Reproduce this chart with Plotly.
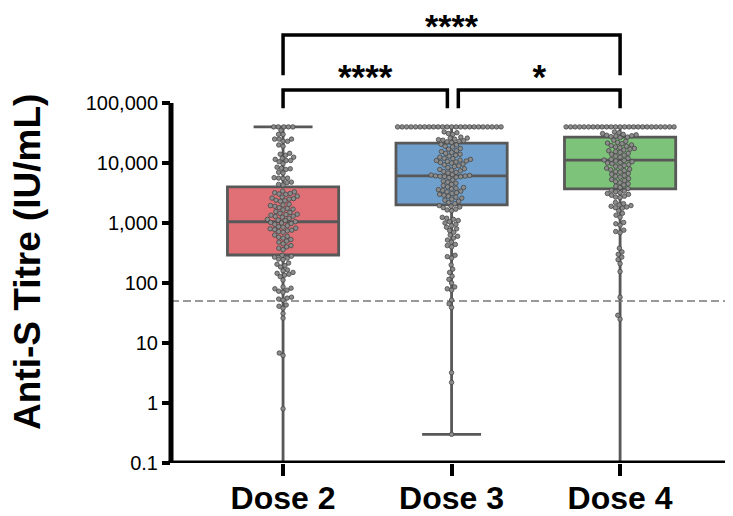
import math
import numpy as np
import plotly.graph_objects as go

# ---------------- data ----------------
groups = ["Dose 2", "Dose 3", "Dose 4"]

dose2 = [40000, 40000, 40000, 40000, 40000,
         35000, 30000, 30000, 25000, 25000, 25000, 23000, 23000, 20000, 19000,
         14000, 14500, 13500, 12000, 11500, 11000, 11000, 10500, 12500, 9700,
         8500, 8200, 8000, 7800, 7000, 6800, 5600, 5600, 5500, 5700, 4800, 4700, 4400, 4300,
         3400, 3300, 3200, 3100, 3000, 3050,
         2800, 2700, 2600, 2550, 2500, 2400, 2350, 2300,
         2050, 2000, 1950, 1900, 1800, 1750, 1700, 1650,
         1550, 1500, 1450, 1400, 1380, 1350, 1300, 1280,
         1250, 1200, 1150, 1120, 1100, 1050, 1020, 1000, 980, 950,
         900, 870, 850, 820, 800, 780, 760, 740, 720, 700,
         630, 600, 580, 560, 530, 500, 480,
         450, 420, 400, 380, 360,
         290, 280, 270, 260, 250, 245,
         215, 205, 195, 185,
         165, 160, 150, 145, 140, 135, 128, 112,
         86, 82, 80, 76, 73, 70,
         58, 56, 54, 52, 43, 41, 38, 31, 26,
         6.8, 6.2, 0.8]

dose3 = [40000] * 24 + [
         33000, 32000, 31000, 30000,
         27000, 26000, 26000, 25000, 24500, 24000, 23500, 23000, 22500, 22000,
         20500, 20000, 19000, 18500, 17500, 17000, 16000, 15500,
         15000, 14500, 14000, 13500, 13000, 12500, 12000, 11800, 11500, 11200, 11000, 10800, 10600, 10400,
         10200, 10000, 9600, 9300, 9000, 8700, 8400, 8000, 7800, 7600, 7400, 7200, 7000, 6800,
         6400, 6300, 6200, 6100, 6050, 6000, 5950, 5900, 5800, 5700,
         5200, 5000, 4800, 4600, 4400, 4200, 4000, 3900, 3800, 3700, 3600, 3500, 3400, 3300,
         3200, 3100, 3000, 2900, 2800, 2700, 2600, 2500, 2400, 2300, 2200, 2100,
         1950, 1900, 1850, 1800, 1700, 1650, 1600,
         1240, 1200, 1150, 1100, 1050, 1000, 950, 900, 850, 800, 750, 700,
         630, 600, 560, 520, 480, 440, 420, 400,
         290, 275, 260, 200, 170, 150, 130, 115, 100,
         86, 80, 76, 52, 45, 39,
         3.2, 2.2, 0.3]

dose4 = [40000] * 25 + [
         33000, 32000, 31000, 30000, 29500, 29000, 28500, 28000, 27500, 27000, 26500,
         24000, 23000, 22000, 21500, 21000, 20000, 19500, 19000, 18500, 18000, 17500, 17000, 16500,
         16000, 15500, 15000, 14500, 14000, 13500, 13000, 12500, 12000, 11500, 11200,
         11000, 10800, 10500, 10200, 10000, 9700, 9400, 9100, 8800, 8500, 8200, 7900, 7700,
         7500, 7200, 7000, 6700, 6500, 6200, 6000, 5800, 5500, 5300,
         5100, 4900, 4700, 4500, 4300, 4100, 3900, 3750,
         3500, 3400, 3300, 3200, 3100, 3000, 2900, 2800, 2700, 2650,
         2200, 2100, 2000, 1950, 1900, 1850, 1800, 1770,
         1600, 1450, 1350, 1250, 1020, 970, 920, 760, 720, 690,
         380, 330, 300, 270, 245, 210, 155,
         58, 29, 25]

values = [dose2, dose3, dose4]

# box statistics (min/max whiskers)
q1 = [293, 2000, 3700]
median = [1050, 6100, 11200]
q3 = [4000, 21500, 27000]
lowerfence = [0.05, 0.3, 0.05]
upperfence = [40000, 40000, 40000]

threshold = 50

y_tickvals = [0.1, 1, 10, 100, 1000, 10000, 100000]
y_ticktext = ["0.1", "1", "10", "100", "1,000", "10,000", "100,000"]

# significance comparisons: (group a, group b, label)
comparisons = [(0, 1, "****"), (1, 2, "*"), (0, 2, "****")]

# ---------------- styling / layout ----------------
# the page body adds an 8px offset, so the figure is 8px smaller than the window
OFF = 8
W, H = 733 - OFF, 516 - OFF
ML, MR, MT, MB = 171 - OFF, 0, 10 - OFF, 516 - 463
XR = [-0.665, 2.67]
YR = [-1.0, 6.55]
plot_w = W - ML - MR
plot_h = H - MT - MB
px_per_x = plot_w / (XR[1] - XR[0])
px_per_dec = plot_h / (YR[1] - YR[0])

fills = ["rgb(224,112,118)", "rgb(112,161,206)", "rgb(125,195,121)"]
FONT = "Liberation Sans, Arial, sans-serif"


def swarm(vals, d):
    ys = np.log10(np.array(vals, dtype=float)) * px_per_dec
    order = np.argsort(ys, kind="stable")
    placed = []
    offs = np.zeros(len(vals))
    for i in order:
        y = ys[i]
        near = [(px, py) for px, py in placed if abs(py - y) < d]
        cands = [0.0]
        for px, py in near:
            dx = math.sqrt(max(d * d - (py - y) ** 2, 0))
            cands += [px + dx, px - dx]
        cands.sort(key=lambda c: (abs(c), c))
        chosen = 0.0
        for c in cands:
            if all((c - px) ** 2 + (y - py) ** 2 >= d * d - 1e-6 for px, py in near):
                chosen = c
                break
        placed.append((chosen, y))
        offs[i] = chosen / px_per_x
    return offs


fig = go.Figure()

for k, g in enumerate(groups):
    fig.add_trace(go.Box(
        x=[k], q1=[q1[k]], median=[median[k]], q3=[q3[k]],
        lowerfence=[lowerfence[k]], upperfence=[upperfence[k]],
        width=0.66, whiskerwidth=0.53,
        fillcolor=fills[k], line=dict(color="rgb(88,88,88)", width=2.8),
        boxpoints=False, hoverinfo="skip", showlegend=False,
    ))

# threshold line
fig.add_trace(go.Scatter(
    x=[XR[0], XR[1]], y=[threshold, threshold], mode="lines",
    line=dict(color="rgb(120,120,120)", width=1.5, dash="8px,4px"),
    hoverinfo="skip", showlegend=False,
))

for k, g in enumerate(groups):
    offs = swarm(values[k], 4.5)
    fig.add_trace(go.Scatter(
        x=k + offs, y=values[k], mode="markers",
        marker=dict(size=4.5, color="rgb(140,140,140)",
                    line=dict(color="rgb(70,70,70)", width=0.8)),
        hoverinfo="skip", showlegend=False,
    ))

# significance brackets
bracket_levels = {(0, 1): (165000, 82000), (1, 2): (165000, 82000), (0, 2): (1360000, 290000)}
star_levels = {(0, 1): 2.42e5, (1, 2): 2.42e5, (0, 2): 1.65e6}
star_sizes = {(0, 1): 35, (1, 2): 35, (0, 2): 34}
for a, b, lab in comparisons:
    top, bot = bracket_levels[(a, b)]
    xa, xb = a, b
    if (a, b) == (0, 1):
        xb = b - 0.025
    if (a, b) == (1, 2):
        xa = a + 0.04
    fig.add_trace(go.Scatter(
        x=[xa, xa, xb, xb], y=[bot, top, top, bot], mode="lines",
        line=dict(color="black", width=3.5), hoverinfo="skip", showlegend=False,
    ))
    fig.add_trace(go.Scatter(
        x=[(xa + xb) / 2], y=[star_levels[(a, b)]], mode="text", text=[lab],
        textfont=dict(family=FONT, size=star_sizes[(a, b)], color="black", weight="bold"),
        textposition="middle center", cliponaxis=False,
        hoverinfo="skip", showlegend=False,
    ))

# axis lines as shapes (y axis only spans 0.1 .. 100,000)
fig.add_shape(type="line", xref="paper", yref="y", x0=0, x1=0,
              y0=y_tickvals[0], y1=y_tickvals[-1],
              line=dict(color="black", width=5), layer="above")
fig.add_shape(type="line", xref="paper", yref="y", x0=-2.5 / plot_w, x1=1,
              y0=y_tickvals[0], y1=y_tickvals[0],
              line=dict(color="black", width=5), layer="above")

fig.add_annotation(
    text="Anti-S Titre (IU/mL)", textangle=-90, showarrow=False,
    xref="paper", yref="paper",
    x=(28 - OFF - ML) / plot_w, y=(H - MB - (262 - OFF)) / plot_h,
    xanchor="center", yanchor="middle",
    font=dict(family=FONT, size=37, color="black", weight="bold"),
)

fig.update_layout(
    width=W, height=H,
    margin=dict(l=ML, r=MR, t=MT, b=MB, autoexpand=False),
    paper_bgcolor="white", plot_bgcolor="white",
    showlegend=False,
    xaxis=dict(range=XR, tickvals=[0, 1, 2], ticktext=groups, showgrid=False,
               zeroline=False, showline=False, ticks="outside", ticklen=12,
               tickwidth=4, tickcolor="black", automargin=False,
               ticklabelstandoff=-5,
               tickfont=dict(family=FONT, size=32, color="black", weight="bold")),
    yaxis=dict(type="log", range=YR, tickvals=y_tickvals, ticktext=y_ticktext,
               showgrid=False, zeroline=False, showline=False, ticks="outside",
               ticklen=8, tickwidth=4, tickcolor="black", automargin=False,
               tickfont=dict(family=FONT, size=20, color="black")),
)

fig.write_html("out.html")
